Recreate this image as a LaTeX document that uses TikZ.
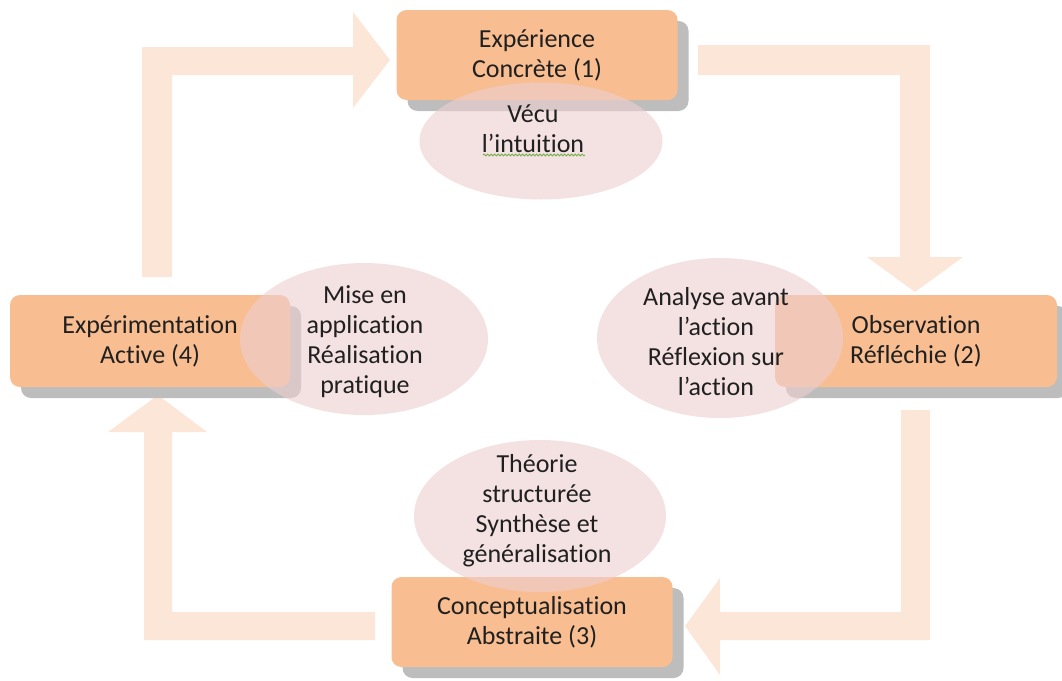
\documentclass[tikz,border=0pt]{standalone}
\usepackage{fontspec}
\setmainfont{Carlito}[Ligatures={NoCommon,NoRequired,NoContextual}]
\usetikzlibrary{shapes.geometric,shadows,decorations.pathmorphing}
\definecolor{arrowc}{HTML}{FCE6D7}
\definecolor{boxc}{HTML}{F8BE91}
\definecolor{shadowc}{HTML}{BDBDBD}
\definecolor{pinkc}{HTML}{EDCFCF}
\definecolor{textc}{HTML}{202020}
\definecolor{spellc}{HTML}{6FAE47}
\tikzset{
  bigarrow/.style={fill=arrowc, draw=none},
  stagebox/.style={rectangle, rounded corners=10pt, fill=boxc, draw=none,
    minimum width=281pt, minimum height=90pt, align=center, text=textc,
    font=\fontsize{26}{30}\selectfont,
    general shadow={shadow xshift=11pt, shadow yshift=-11pt, fill=shadowc}},
  bubble/.style={ellipse, fill=pinkc, fill opacity=0.62, draw=none, inner sep=0pt},
  bubbletext/.style={align=center, text=textc, font=\fontsize{26}{30}\selectfont}
}
\begin{document}
\begin{tikzpicture}[x=1pt,y=-1pt]
\useasboundingbox (0,0) rectangle (1062,680);
% block arrows
\fill[bigarrow] (142,277) -- (142,47) -- (353,47) -- (353,12) -- (390,60) -- (353,108) -- (353,75) -- (172,75) -- (172,277) -- cycle;
\fill[bigarrow] (698,45) -- (930,45) -- (930,257) -- (963,257) -- (915,292) -- (867,257) -- (900,257) -- (900,75) -- (698,75) -- cycle;
\fill[bigarrow] (901,410) -- (930,410) -- (930,640) -- (720,640) -- (720,675) -- (685,626) -- (720,578) -- (720,612) -- (901,612) -- cycle;
\fill[bigarrow] (375,612) -- (375,640) -- (144,640) -- (144,432) -- (108,432) -- (158,395) -- (207,432) -- (172,432) -- (172,612) -- cycle;
% stage boxes
\node[stagebox] (ec) at (537,55) {Expérience\\Concrète (1)};
\node[stagebox, minimum width=280pt, minimum height=92pt] (ea) at (150,341) {Expérimentation\\Active (4)};
\node[stagebox, minimum width=282pt, minimum height=92pt] (or) at (916,341) {Observation\\Réfléchie (2)};
\node[stagebox] (ca) at (532,622) {Conceptualisation\\Abstraite (3)};
% bubbles
\node[bubble, minimum width=243pt, minimum height=117pt] (b1) at (541,141) {};
\node[bubble, minimum width=248pt, minimum height=152pt] (b4) at (364,339) {};
\node[bubble, minimum width=246pt, minimum height=160pt] (b2) at (720,338) {};
\node[bubble, minimum width=252pt, minimum height=152pt] (b3) at (540,516) {};
% bubble texts
\node[bubbletext] (t1) at (533,129) {Vécu\\l’int\kern0pt uit\kern0pt ion};
\node[bubbletext] (t4) at (365,342) {Mise en\\applicat\kern0pt ion\\Réalisat\kern0pt ion\\prat\kern0pt ique};
\node[bubbletext] (t2) at (716,342) {Analyse avant\\l’act\kern0pt ion\\Réflexion sur\\l’act\kern0pt ion};
\node[bubbletext] (t3) at (537,511) {Théorie\\structurée\\Synthèse et\\généralisat\kern0pt ion};
% spell-check squiggle
\coordinate (sq1) at (483,155);
\coordinate (sq2) at (585,155);
\draw[spellc, line width=0.8pt, decorate, decoration={snake, segment length=3.5pt, amplitude=1pt}] (sq1) -- (sq2);
\end{tikzpicture}
\end{document}
